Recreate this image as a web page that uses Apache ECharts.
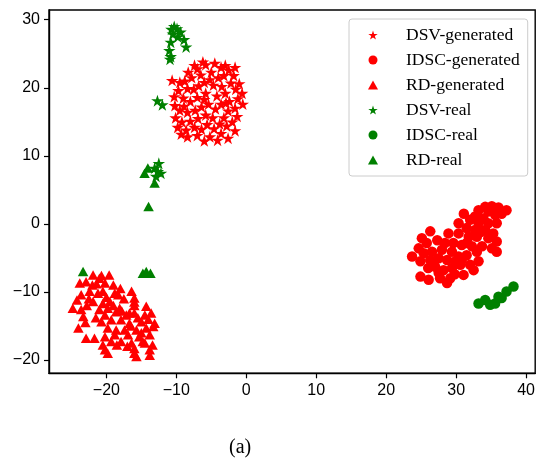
<!DOCTYPE html>
<html>
<head>
<meta charset="utf-8">
<script src="https://cdn.jsdelivr.net/npm/echarts@6/dist/echarts.min.js"></script>
<style>html,body{margin:0;padding:0;background:#fff;}#c{width:538px;height:460px;}</style>
</head>
<body>
<div id="c"></div>
<script>
const seriesNames = ['DSV-generated','IDSC-generated','RD-generated','DSV-real','IDSC-real','RD-real'];
const xTicks = [-20,-10,0,10,20,30,40];
const yTicks = [-20,-10,0,10,20,30];
const caption = '(a)';

const dsvGenerated = [
[-7.0,22.8],[-5.8,23.4],[-4.5,23.6],[-3.6,23.0],[-6.5,21.9],[-5.0,22.3],[-3.2,21.8],[-1.8,21.8],[-2.5,22.6],[-4.0,21.5],
[-7.8,21.5],[-8.8,21.0],[-9.5,20.8],[-10.6,21.1],[-6.0,20.8],[-4.7,20.4],[-2.2,20.7],[-1.0,20.6],[-1.5,19.8],[-0.6,19.2],
[-1.2,18.4],[-0.5,17.6],[-1.6,17.0],[-2.4,18.0],[-3.0,19.2],[-3.5,20.2],[-6.8,20.3],[-7.5,19.8],[-8.4,19.9],[-9.7,19.6],
[-10.3,18.7],[-9.0,18.5],[-8.0,18.0],[-7.0,18.6],[-5.8,19.2],[-4.2,18.8],[-3.6,17.6],[-2.6,16.6],[-1.3,15.8],[-2.0,15.0],
[-3.2,15.6],[-4.4,16.9],[-5.4,17.6],[-6.4,17.2],[-7.3,16.7],[-8.4,16.4],[-9.5,16.7],[-10.1,15.6],[-9.2,15.0],[-8.0,15.1],
[-6.9,15.5],[-5.8,16.0],[-4.8,15.6],[-3.8,14.7],[-2.8,14.4],[-1.6,13.7],[-2.6,12.6],[-3.6,13.3],[-4.6,14.0],[-5.6,14.6],
[-6.4,13.9],[-7.4,14.2],[-8.6,13.8],[-9.3,13.2],[-8.4,12.8],[-7.0,13.0],[-5.2,12.8],[-4.1,12.3],[-6.0,12.2],[-9.8,14.2],
[-10.2,17.4],[-5.2,21.2],[-3.0,23.3],[-1.6,23.0],[-6.2,23.8],[-8.3,22.3],[-7.4,23.3],[-2.9,17.8],[-6.0,18.3],[-8.9,17.3]
];
const idscGenerated = [
[35.1,2.6],[36.05,2.4],[37.2,2.0],[34.15,2.5],[33.2,2.0],[34.6,1.8],[35.6,1.3],[36.5,1.5],[32.7,1.1],[33.9,0.8],
[31.1,1.5],[32.0,0.6],[30.35,0.1],[33.2,0.1],[34.6,0.1],[35.8,0.1],[31.5,-0.6],[32.7,-0.9],[34.15,-0.9],[35.3,-1.4],
[28.9,-1.4],[30.35,-1.4],[31.8,-1.9],[32.96,-1.9],[34.6,-2.1],[35.8,-2.6],[25.1,-2.1],[26.3,-1.1],[25.8,-2.8],[27.3,-2.4],
[28.4,-2.8],[29.6,-2.8],[30.8,-3.1],[32.25,-3.3],[33.7,-3.3],[35.1,-3.6],[35.8,-4.1],[24.65,-3.6],[25.36,-4.3],[26.55,-4.1],
[27.97,-3.8],[29.4,-4.1],[30.35,-4.8],[31.5,-4.6],[32.96,-4.1],[33.2,-5.5],[32.0,-6.0],[30.8,-5.3],[23.7,-4.8],[24.9,-5.5],
[26.3,-5.3],[27.5,-5.05],[28.7,-5.3],[29.9,-5.5],[27.0,-6.3],[28.2,-6.8],[29.4,-6.5],[30.6,-6.0],[24.9,-7.75],[26.07,-8.2],
[27.7,-8.0],[29.16,-8.0],[28.7,-8.7],[31.06,-7.5],[32.5,-6.8],[26.0,-6.5],[27.5,-7.2],[29.8,-7.4],[31.5,-2.8],[33.5,-1.2]
];
const rdGenerated = [
[-21.9,-7.5],[-20.7,-7.6],[-19.6,-7.5],[-23.8,-8.7],[-22.9,-8.5],[-21.4,-8.8],[-20.2,-8.7],[-23.6,-10.4],[-22.4,-9.9],[-21.2,-10.2],
[-20.5,-9.9],[-18.8,-10.2],[-18.3,-10.4],[-16.4,-9.9],[-21.9,-11.4],[-20.5,-11.7],[-19.5,-11.4],[-16.0,-10.9],[-24.8,-12.4],[-23.6,-12.6],
[-21.0,-12.6],[-19.8,-12.4],[-18.1,-12.4],[-18.6,-12.9],[-23.3,-13.6],[-20.2,-13.4],[-17.15,-13.4],[-16.7,-13.1],[-16.0,-13.1],[-14.3,-12.1],
[-14.5,-13.4],[-13.6,-13.1],[-20.7,-14.4],[-19.3,-14.1],[-17.9,-14.1],[-16.7,-14.6],[-15.0,-14.4],[-13.1,-14.6],[-24.0,-15.3],[-19.8,-15.3],
[-18.6,-15.6],[-17.4,-15.6],[-15.7,-15.6],[-14.3,-15.3],[-13.3,-15.1],[-22.9,-16.8],[-21.7,-16.8],[-20.2,-16.6],[-18.8,-16.3],[-16.9,-16.3],
[-15.3,-16.6],[-13.8,-16.3],[-20.5,-17.8],[-19.3,-17.3],[-17.9,-17.3],[-16.4,-17.5],[-14.8,-17.3],[-13.4,-17.8],[-20.2,-18.5],[-16.0,-18.3],
[-13.8,-18.5],[-15.7,-19.5],[-13.8,-19.3],[-22.0,-9.0],[-21.0,-8.0],[-19.0,-9.0],[-17.5,-11.0],[-16.0,-12.0],[-19.0,-12.0],[-22.5,-11.0],
[-24.2,-11.2],[-23.0,-14.5],[-21.5,-13.8],[-16.5,-15.0],[-15.0,-16.0],[-14.5,-17.5],[-17.0,-18.0],[-18.5,-17.8],[-16.0,-19.0],[-19.8,-19.0],
[-14.0,-14.0],[-15.5,-13.8],[-17.8,-12.8],[-20.0,-10.8],[-18.0,-9.5],[-16.0,-11.5],[-22.8,-12.0]
];
const dsvReal = [
[-10.3,29.0],[-10.7,28.6],[-9.9,28.7],[-10.5,27.9],[-9.4,28.2],[-9.8,27.5],[-10.8,26.7],[-8.9,27.1],[-8.6,26.0],[-11.0,25.5],
[-10.8,24.6],[-10.9,24.2],[-12.7,18.1],[-12.0,17.5],
[-12.5,8.9],[-12.64,7.7],[-13.1,8.2],[-12.9,7.0],[-12.2,7.45]
];
const idscReal = [
[33.2,-11.7],[34.15,-11.2],[34.86,-11.9],[35.57,-11.7],[36.05,-10.7],[36.5,-10.9],[37.2,-9.95],[38.2,-9.2]
];
const rdReal = [
[-14.54,7.45],[-14.07,8.2],[-13.1,6.0],[-13.97,2.55],[-14.78,-7.26],[-14.3,-7.0],[-13.7,-7.26],[-23.33,-7.0]
];

const STAR = 'path://M95.1,0 L117.6,69.1 L190.2,69.1 L131.4,111.8 L153.9,180.9 L95.1,138.2 L36.3,180.9 L58.8,111.8 L0,69.1 L72.6,69.1 Z';
const RED = '#ff0000', GREEN = '#008000';
const fmt = v => (v < 0 ? '\u2212' + Math.abs(v) : String(v));

function mk(name, data, symbol, size, color) {
  return { name, type: 'scatter', data, symbol, symbolSize: size,
    itemStyle: { color, opacity: 1 }, emphasis: { disabled: true }, animation: false };
}

const chart = echarts.init(document.getElementById('c'), null, { renderer: 'canvas' });
chart.setOption({
  animation: false,
  backgroundColor: '#fff',
  grid: { left: 49, top: 10, right: 1.3, bottom: 86.7, show: true, borderColor: '#000', borderWidth: 1.4, backgroundColor: 'transparent' },
  xAxis: {
    type: 'value', min: -28.2, max: 41.3,
    splitLine: { show: false },
    axisLine: { show: true, onZero: false, lineStyle: { color: '#000', width: 1.4 } },
    axisTick: { show: true, inside: false, length: 5, customValues: xTicks, lineStyle: { color: '#000', width: 1.2 } },
    axisLabel: { customValues: xTicks, formatter: fmt, margin: 9, color: '#000', fontFamily: 'Liberation Sans', fontSize: 16 }
  },
  yAxis: {
    type: 'value', min: -21.96, max: 31.43,
    splitLine: { show: false },
    axisLine: { show: true, onZero: false, lineStyle: { color: '#000', width: 1.4 } },
    axisTick: { show: true, inside: false, length: 5, customValues: yTicks, lineStyle: { color: '#000', width: 1.2 } },
    axisLabel: { customValues: yTicks, formatter: fmt, margin: 9, color: '#000', fontFamily: 'Liberation Sans', fontSize: 16 }
  },
  legend: {
    orient: 'vertical', left: 349, top: 19,
    padding: [7, 8, 7, 19],
    itemWidth: 10, itemHeight: 9, itemGap: 7,
    borderColor: '#cccccc', borderWidth: 1, borderRadius: 3, backgroundColor: 'rgba(255,255,255,0.8)',
    textStyle: { fontFamily: 'Liberation Serif', fontSize: 17.5, color: '#000', padding: [0, 0, 0, 23], lineHeight: 17 },
    data: seriesNames
  },
  graphic: [{ type: 'text', left: 229, top: 438, style: { text: caption, font: '20px "Liberation Serif"', fill: '#000' } }],
  series: [
    mk(seriesNames[0], dsvGenerated, STAR, [12.5, 12], RED),
    mk(seriesNames[1], idscGenerated, 'circle', 10.5, RED),
    mk(seriesNames[2], rdGenerated, 'triangle', [10.5, 9.5], RED),
    mk(seriesNames[3], dsvReal, STAR, [12.5, 12], GREEN),
    mk(seriesNames[4], idscReal, 'circle', 10.5, GREEN),
    mk(seriesNames[5], rdReal, 'triangle', [10.5, 9.5], GREEN)
  ]
});
</script>
</body>
</html>
